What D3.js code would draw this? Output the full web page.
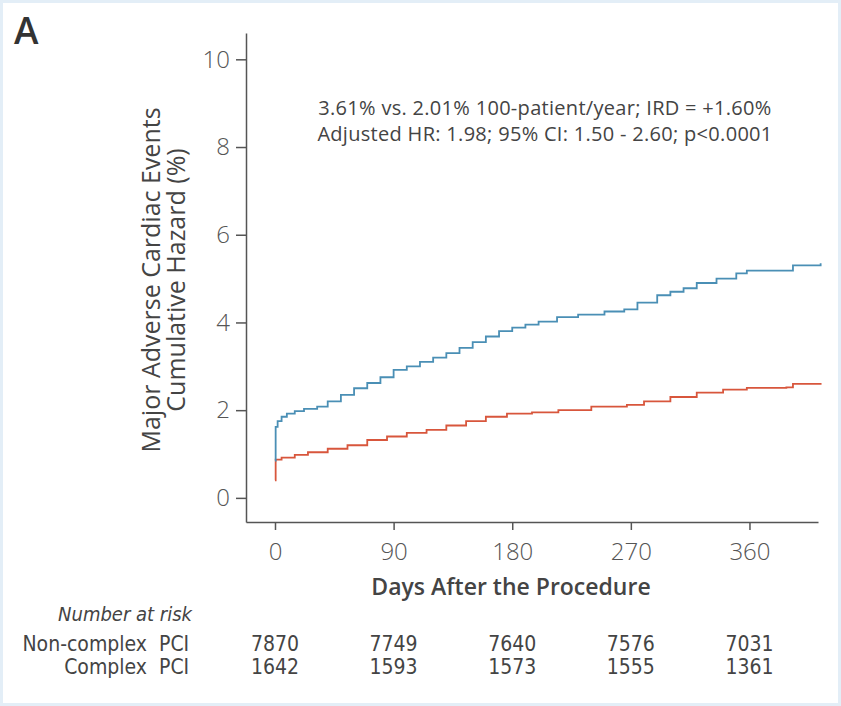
<!DOCTYPE html>
<html>
<head>
<meta charset="utf-8">
<script src="https://cdn.jsdelivr.net/npm/d3@7"></script>
<style>
  body { margin: 0; background: #fff; }
  .axis path, .axis line { stroke: #555; stroke-width: 1.5; }
  .axis text { font-family: "Open Sans", sans-serif; font-size: 24px; fill: #555; font-weight: 300; }
</style>
</head>
<body>
<div class="km_container"></div>
<script>
// tick labels
const dayTicks = [0, 90, 180, 270, 360]
const hazardTicks = [0, 2, 4, 6, 8, 10]

// complex PCI (blue)
const complexDays   = [0, 0.5, 2, 5, 9, 15, 22, 32, 40, 50, 60, 70, 80, 90, 100, 110, 120, 130, 140, 150, 160, 170, 180, 190, 200, 214, 230, 250, 265, 275, 290, 300, 310, 320, 335, 350, 358, 388, 393, 414]
const complexHazard = [0.85, 1.62, 1.75, 1.85, 1.92, 1.98, 2.03, 2.08, 2.2, 2.35, 2.5, 2.62, 2.75, 2.92, 3.0, 3.1, 3.2, 3.3, 3.42, 3.55, 3.68, 3.8, 3.88, 3.95, 4.02, 4.12, 4.18, 4.25, 4.3, 4.45, 4.62, 4.7, 4.78, 4.9, 5.0, 5.12, 5.18, 5.18, 5.3, 5.35]

// non-complex PCI (red)
const nonComplexDays   = [0, 0.5, 5, 15, 25, 40, 55, 70, 85, 100, 115, 130, 145, 160, 176, 195, 215, 240, 267, 280, 300, 320, 340, 358, 388, 393, 414]
const nonComplexHazard = [0.4, 0.87, 0.92, 0.98, 1.04, 1.12, 1.2, 1.32, 1.4, 1.48, 1.55, 1.65, 1.75, 1.85, 1.92, 1.95, 2.0, 2.08, 2.12, 2.2, 2.3, 2.4, 2.47, 2.51, 2.52, 2.6, 2.62]

// number at risk
const riskGroups = ['Non-complex', 'Complex']
const riskNonComplex = [7870, 7749, 7640, 7576, 7031]
const riskComplex = [1642, 1593, 1573, 1555, 1361]

const annotation = [
    '3.61% vs. 2.01% 100-patient/year; IRD = +1.60%',
    'Adjusted HR: 1.98; 95% CI: 1.50 - 2.60; p<0.0001'
]

function setupCanvas(){
    const svg_width = 841
    const svg_height = 706

    const svg = d3.select('.km_container').append('svg')
        .attr('width', svg_width).attr('height', svg_height)

    // faint frame
    svg.append('rect').attr('x', 1.5).attr('y', 1.5)
        .attr('width', svg_width - 3).attr('height', svg_height - 3)
        .attr('fill', 'none').attr('stroke', '#e3eef7').attr('stroke-width', 3)

    const xScale = d3.scaleLinear().domain([-22, 412]).range([246, 818])
    const yScale = d3.scaleLinear().domain([-0.55, 10.6]).range([522, 33])

    // axes
    const xAxis = d3.axisBottom(xScale).tickValues(dayTicks).tickSizeInner(8).tickSizeOuter(0).tickPadding(13)
    svg.append('g').attr('class', 'x axis')
        .attr('transform', 'translate(0,522)').call(xAxis)

    const yAxis = d3.axisLeft(yScale).tickValues(hazardTicks).tickSizeInner(10).tickSizeOuter(0).tickPadding(6)
    svg.append('g').attr('class', 'y axis')
        .attr('transform', 'translate(246,0)').call(yAxis)

    // curves
    const line = d3.line().curve(d3.curveStepAfter)
        .x(d => xScale(d[0])).y(d => yScale(d[1]))

    const complexData = complexDays.map((d, i) => [d, complexHazard[i]])
    const nonComplexData = nonComplexDays.map((d, i) => [d, nonComplexHazard[i]])

    svg.append('path').datum(nonComplexData).attr('d', line)
        .attr('fill', 'none').attr('stroke', '#d8563c').attr('stroke-width', 1.8)
    svg.append('path').datum(complexData).attr('d', line)
        .attr('fill', 'none').attr('stroke', '#4a8fb5').attr('stroke-width', 1.8)

    // panel letter
    svg.append('text').attr('x', 14).attr('y', 44).text('A')
        .style('font-family', '"Open Sans", sans-serif').style('font-size', '37px')
        .style('font-weight', 600).style('fill', '#333')

    // annotation
    svg.append('g').selectAll('text').data(annotation).join('text')
        .attr('x', 545).attr('y', (d, i) => 115 + i * 26)
        .attr('text-anchor', 'middle').text(d => d)
        .style('font-family', '"Open Sans", sans-serif').style('font-size', '20px')
        .style('letter-spacing', '0.3px').style('fill', '#444')

    // y title
    const yTitle = svg.append('text').attr('transform', 'translate(0,280) rotate(-90)')
        .attr('text-anchor', 'middle')
        .style('font-family', '"Open Sans", sans-serif').style('font-size', '25px').style('fill', '#444')
    yTitle.append('tspan').attr('x', 0).attr('y', 160).text('Major Adverse Cardiac Events')
    yTitle.append('tspan').attr('x', 0).attr('y', 185).text('Cumulative Hazard (%)')

    // x title
    svg.append('text').attr('x', 511).attr('y', 595).attr('text-anchor', 'middle')
        .text('Days After the Procedure')
        .style('font-family', '"Open Sans", sans-serif').style('font-size', '23px')
        .style('font-weight', 600).style('fill', '#444')

    // number at risk table
    const tableFont = '"DejaVu Sans Condensed", "Open Sans", sans-serif'
    svg.append('text').attr('x', 192).attr('y', 621).attr('text-anchor', 'end')
        .text('Number at risk')
        .style('font-family', tableFont).style('font-size', '20px')
        .style('font-style', 'italic').style('fill', '#444')

    const rows = [riskNonComplex, riskComplex]
    rows.forEach((row, r) => {
        const y = 651 + r * 23
        svg.append('text').attr('x', 147).attr('y', y).attr('text-anchor', 'end')
            .text(riskGroups[r])
            .style('font-family', tableFont).style('font-size', '21px').style('fill', '#444')
        svg.append('text').attr('x', 159).attr('y', y)
            .text('PCI')
            .style('font-family', tableFont).style('font-size', '21px').style('fill', '#444')
        svg.append('g').selectAll('text').data(row).join('text')
            .attr('x', (d, i) => xScale(dayTicks[i])).attr('y', y)
            .attr('text-anchor', 'middle').text(d => d)
            .style('font-family', tableFont).style('font-size', '21px').style('fill', '#444')
    })
}

setupCanvas()
</script>
</body>
</html>
